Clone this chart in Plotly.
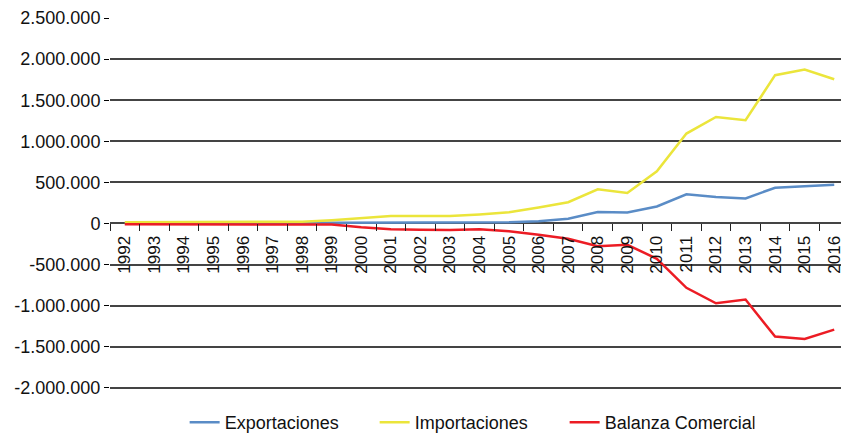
import plotly.graph_objects as go

# data
years = [str(y) for y in range(1992, 2017)]

exportaciones = [3000, 4000, 5000, 5000, 6000, 6000, 5000, 6000, 8000, 10000,
                 12000, 14000, 12000, 14000, 28000, 57000, 138000, 134000, 207000,
                 354000, 321000, 305000, 435000, 455000, 472000]
importaciones = [14000, 15000, 16000, 17000, 18000, 19000, 22000, 40000, 65000,
                 89000, 89000, 89000, 110000, 135000, 195000, 258000, 415000,
                 370000, 634000, 1094000, 1296000, 1256000, 1805000, 1874000,
                 1756000]
balanza = [-11000, -11000, -11000, -12000, -12000, -13000, -17000, -12000, -45000,
           -70000, -77000, -80000, -70000, -94000, -138000, -187000, -277000,
           -260000, -430000, -784000, -972000, -927000, -1378000, -1406000,
           -1293000]

ytick_vals = [2500000, 2000000, 1500000, 1000000, 500000, 0,
              -500000, -1000000, -1500000, -2000000]
ytick_text = [f"{v:,}".replace(",", ".") for v in ytick_vals]

FONT = "Liberation Sans, Arial, sans-serif"
y_lo, y_hi = -2040000, 2501000  # pad so the end gridlines are kept

fig = go.Figure()
fig.add_trace(go.Scatter(x=years, y=exportaciones, name="Exportaciones",
                         mode="lines", line=dict(color="#5A8CC6", width=2.5)))
fig.add_trace(go.Scatter(x=years, y=importaciones, name="Importaciones",
                         mode="lines", line=dict(color="#EBE53B", width=2.5)))
fig.add_trace(go.Scatter(x=years, y=balanza, name="Balanza Comercial",
                         mode="lines", line=dict(color="#EC1C24", width=2.5)))

# page body adds an 8px offset, so the figure is 8px smaller than the window
fig.update_layout(
    width=841, height=427,
    margin=dict(l=102, r=0, t=10, b=44, autoexpand=False),
    plot_bgcolor="white", paper_bgcolor="white",
    font=dict(family=FONT, color="#111111"),
    showlegend=True,
    legend=dict(orientation="h", x=0.101, y=-0.035, xanchor="left", yanchor="top",
                font=dict(size=18, family=FONT), entrywidth=145,
                bgcolor="rgba(0,0,0,0)"),
)

fig.update_yaxes(
    range=[y_lo, y_hi], automargin=False,
    tickvals=ytick_vals, ticktext=ytick_text,
    tickfont=dict(size=18),
    showgrid=True, gridcolor="#444444", gridwidth=1.5,
    zeroline=True, zerolinecolor="#444444", zerolinewidth=1.5,
    showline=False,
    ticks="outside", ticklen=5, tickcolor="black",
)

# y axis line drawn as the x axis's left boundary is not possible; use a
# second, empty y axis only for the vertical line spanning the grid
fig.update_layout(yaxis2=dict(overlaying="y", range=[-2000000, 2500000],
                              domain=[0, 1], showgrid=False, zeroline=False,
                              showticklabels=False, showline=True,
                              linecolor="black", linewidth=1.5))
fig.update_yaxes(matches=None)

fig.update_xaxes(
    type="category", range=[-0.5, 24.5], automargin=False,
    anchor="free", position=-y_lo / (y_hi - y_lo),
    showgrid=False, showline=False,
    ticks="outside", tickson="boundaries", ticklen=7, tickcolor="#222222",
    tickangle=-90, tickfont=dict(size=17), ticklabelstandoff=8,
)

fig.write_html("out.html")
